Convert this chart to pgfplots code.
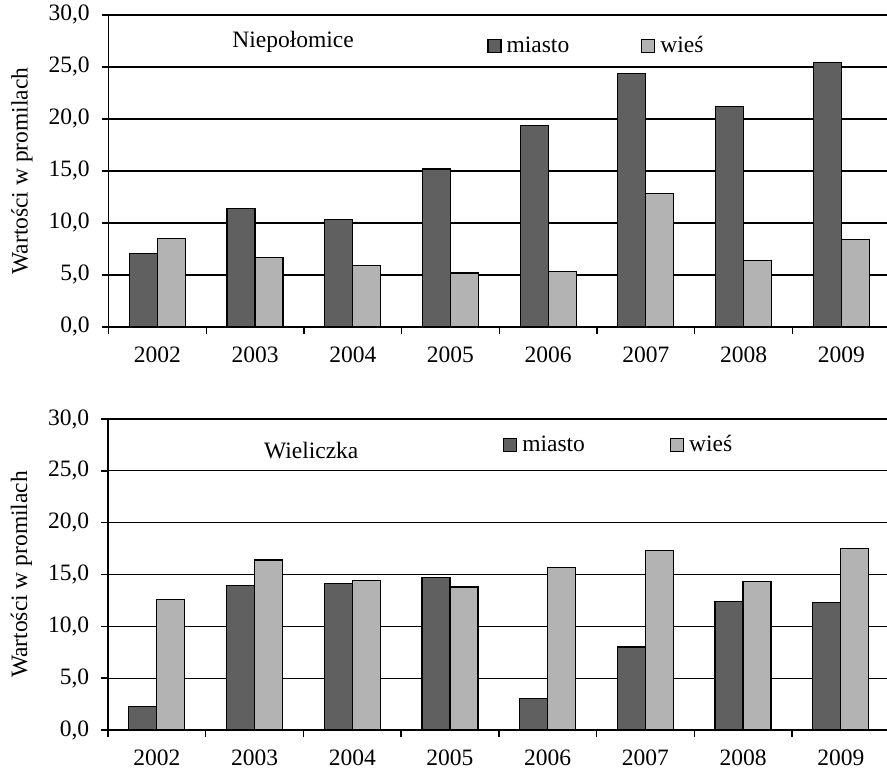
\documentclass[border=0pt]{standalone}
\usepackage{pgfplots}
\pgfplotsset{compat=1.18}
\usepackage{fontspec}
\setmainfont{Liberation Serif}
\definecolor{dark}{RGB}{96,96,96}
\definecolor{light}{RGB}{179,179,179}

\pgfplotstableread{
x miasto wies
0 7.1 8.5
1 11.4 6.7
2 10.3 5.9
3 15.2 5.2
4 19.4 5.3
5 24.4 12.8
6 21.2 6.4
7 25.4 8.4
}\niepolomice

\pgfplotstableread{
x miasto wies
0 2.3 12.6
1 13.9 16.4
2 14.1 14.4
3 14.7 13.8
4 3.0 15.7
5 8.0 17.3
6 12.4 14.3
7 12.3 17.5
}\wieliczka

\pgfplotsset{
  panel/.style={
    scale only axis, width=390.8pt,
    xmin=-0.5, xmax=7.5, ymin=0, ymax=30,
    ybar=0pt, bar width=14pt,
    axis x line*=bottom, axis y line*=left,
    axis line style={line width=0.7pt},
    xtick={0,...,7},
    xticklabels={2002,2003,2004,2005,2006,2007,2008,2009},
    minor xtick={-0.5,0.5,...,7.5},
    major x tick style={draw=none},
    minor tick length=3.5pt, major tick length=3.5pt,
    tick style={black, line width=0.7pt},
    tick align=outside,
    ytick={0,5,...,30},
    ymajorgrids, grid style={black, line width=0.6pt},
    /pgf/number format/assume math mode=true,
    xticklabel style={yshift=-2.75pt},
    yticklabel style={xshift=-2.4pt, /pgf/number format/.cd, fixed, fixed zerofill, precision=1, use comma},
    ylabel={Wartości w promilach},
    ylabel style={at={(axis description cs:-0.1107,0.5)}, anchor=center},
    legend style={draw=none, fill=none, inner sep=0pt, legend columns=2,
      anchor=west, nodes={inner xsep=2.5pt, inner ysep=0pt}},
    legend cell align=left,
  },
  sq/.style={legend image code/.code={\draw[##1, line width=0.6pt] (0pt,-3.25pt) rectangle (6.5pt,3.25pt);}},
}

\begin{document}
\begin{tikzpicture}[font=\fontsize{11.75pt}{14pt}\selectfont]
\path[use as bounding box] (0,0) rectangle (443.5pt,384.5pt);

\begin{axis}[panel, at={(54.25pt,221pt)}, anchor=south west, height=156pt,
  legend style={at={(axis cs:3.374,27.0)},
    /tikz/every even column/.append style={column sep=33.5pt}}]
\addplot[fill=dark, draw=black, line width=0.6pt, sq] table[x=x, y=miasto] {\niepolomice};
\addlegendentry{miasto}
\addplot[fill=light, draw=black, line width=0.6pt, sq] table[x=x, y=wies] {\niepolomice};
\addlegendentry{wieś}
\node at (axis cs:1.39,27.4) {Niepołomice};
\end{axis}

\begin{axis}[panel, at={(54pt,19.5pt)}, anchor=south west, height=155.5pt,
  legend style={at={(axis cs:3.54,27.5)},
    /tikz/every even column/.append style={column sep=40pt}}]
\addplot[fill=dark, draw=black, line width=0.6pt, sq] table[x=x, y=miasto] {\wieliczka};
\addlegendentry{miasto}
\addplot[fill=light, draw=black, line width=0.6pt, sq] table[x=x, y=wies] {\wieliczka};
\addlegendentry{wieś}
\node at (axis cs:1.58,27.0) {Wieliczka};
\end{axis}
\end{tikzpicture}
\end{document}
